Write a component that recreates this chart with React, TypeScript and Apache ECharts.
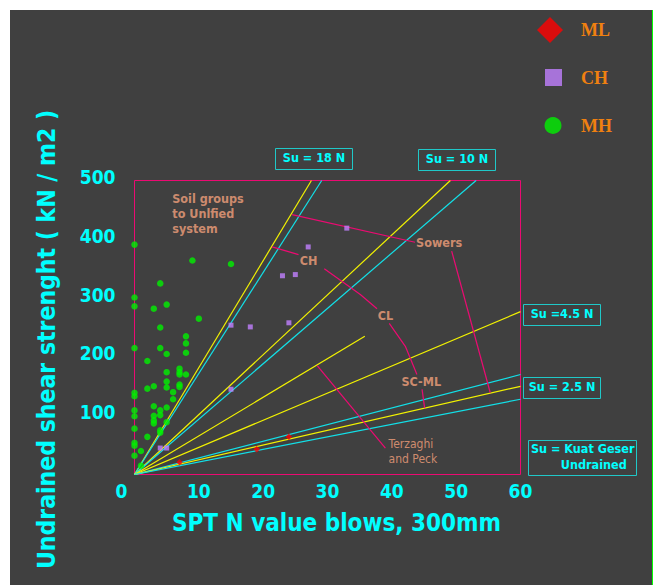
import React, { useEffect, useRef } from 'react';
import * as echarts from 'echarts';

// ---------- data ----------
const xMin = 0, xMax = 60, xStep = 10;
const yMin = 0, yMax = 500, yStep = 100;

const seriesNames = ['ML', 'CH', 'MH'];

const mlPoints = [[7, 21], [19, 43], [24, 64]];
const chPoints = [[4, 45], [5, 45], [15, 145], [15, 254], [18, 251], [23, 338], [24, 258], [25, 340], [27, 387], [33, 419]];
const mhPoints = [
  [0, 391], [0, 301], [0, 286], [0, 215], [0, 139], [0, 133], [0, 109], [0, 99], [0, 78], [0, 54], [0, 49], [0, 32],
  [1, 40], [1, 15],
  [2, 193], [2, 146], [2, 64],
  [3, 282], [3, 150], [3, 116], [3, 100], [3, 92], [3, 87],
  [4, 325], [4, 250], [4, 215], [4, 109], [4, 101], [4, 75], [4, 71],
  [5, 289], [5, 205], [5, 174], [5, 158], [5, 148], [5, 114], [5, 89],
  [6, 140], [6, 128],
  [7, 180], [7, 174], [7, 170], [7, 153], [7, 149],
  [8, 235], [8, 223], [8, 207], [8, 170],
  [9, 364], [10, 265], [15, 358],
];

// correlation lines Su = k N, start at origin, end points
const refLineEnds = [[27.5, 500], [29.1, 500], [49.1, 500], [53.1, 500], [35.8, 235], [60, 277], [60, 170], [60, 150], [60, 128]];
const refLineKinds = ['y', 'c', 'y', 'c', 'y', 'y', 'c', 'y', 'c'];

// leader lines of the annotations
const leaderSowersUpper = [[24.5, 442], [43.6, 395]];
const leaderSowersLower = [[49.3, 380], [55.3, 139]];
const leaderCH = [[21.4, 387], [25.5, 374]];
const leaderCL = [[29.5, 350], [35.1, 306], [37.7, 282]];
const leaderCLtoSCML = [[39.6, 257], [42.1, 218], [43.9, 170]];
const leaderSCML = [[44.7, 145], [45.1, 113]];
const leaderTerzaghi = [[28.4, 185], [39, 45]];
const leaders = [leaderSowersUpper, leaderSowersLower, leaderCH, leaderCL, leaderCLtoSCML, leaderSCML, leaderTerzaghi];

const annotationTexts = ['Sowers', 'CH', 'CL', 'SC-ML', 'Terzaghi\nand Peck', 'Soil groups\nto Unlfied\nsystem'];
const annotationAt = [[47.35, 395], [27.05, 364.5], [39, 271], [44.57, 158.7], [39.5, 39.5], [5.87, 444]];

const xTitle = 'SPT N value blows, 300mm';
const yTitle = 'Undrained shear strenght ( kN / m2 )';
const boxTexts = ['Su = 18 N', 'Su = 10 N', 'Su =4.5 N', 'Su = 2.5 N'];
const kuatTexts = ['Su = Kuat Geser', 'Undrained'];

// ---------- styles ----------
const SANS = "'DejaVu Sans Condensed', 'DejaVu Sans', sans-serif";
const SERIF = "'Liberation Serif', 'DejaVu Serif', serif";
const CYAN = '#00ffff';
const BOX = '#20c8c8';
const YEL = '#f2f200';
const LCYAN = '#12e0e8';
const MAG = '#ec0a72';
const SALMON = '#f4a07c';
const ORANGE = '#f08010';
const RED = '#ff0000';
const PURPLE = '#c080ff';
const GREEN = '#00f000';

export default function App() {
  const ref = useRef<HTMLDivElement>(null);
  useEffect(() => {
    if (!ref.current) return;
    const chart = echarts.init(ref.current, null, { renderer: 'svg' });

    const series: any[] = [];
    refLineEnds.forEach((end, i) => {
      series.push({
        type: 'line', silent: true, symbol: 'none', z: 2,
        data: [[0, 0], end],
        lineStyle: { color: refLineKinds[i] === 'y' ? YEL : LCYAN, width: 1.2 },
      });
    });
    leaders.forEach((pts) => {
      series.push({
        type: 'line', silent: true, symbol: 'none', z: 2,
        data: pts,
        lineStyle: { color: MAG, width: 1.2 },
      });
    });
    series.push({
      name: 'ML', type: 'scatter', symbol: 'diamond', symbolSize: 6.5, z: 4,
      itemStyle: { color: RED }, data: mlPoints,
    });
    series.push({
      name: 'CH', type: 'scatter', symbol: 'rect', symbolSize: 5, z: 4,
      itemStyle: { color: PURPLE }, data: chPoints,
    });
    series.push({
      name: 'MH', type: 'scatter', symbol: 'circle', symbolSize: 6.5, z: 4,
      itemStyle: { color: GREEN }, data: mhPoints,
    });
    series.push({
      type: 'scatter', silent: true, symbolSize: 0, z: 5,
      data: annotationAt.map((p, i) => {
        const multi = annotationTexts[i].includes('\n');
        const isTP = annotationTexts[i].startsWith('Terzaghi');
        return {
          value: p,
          label: {
            show: true,
            position: 'inside',
            formatter: annotationTexts[i],
            color: SALMON,
            fontFamily: SANS,
            fontWeight: isTP ? 'normal' : 'bold',
            fontSize: isTP ? 12 : 12.5,
            lineHeight: 15,
            align: multi ? 'left' : 'center',
            verticalAlign: 'middle',
          },
        };
      }),
    });

    const legendBase = (name: string, icon: string, size: number, left: number, top: number, pad: number) => ({
      data: [name], icon, itemWidth: size, itemHeight: size, left, top, padding: 0,
      selectedMode: false,
      textStyle: { color: ORANGE, fontFamily: SERIF, fontWeight: 'bold', fontSize: 18, padding: [0, 0, 0, pad] },
    });

    const boxLayout = [
      [265.5, 138.5, 77, 21],
      [408.5, 139.5, 77, 21],
      [513.5, 294.5, 77, 21],
      [513.5, 367.5, 77, 21],
    ];
    const graphic: any[] = [];
    boxTexts.forEach((t, i) => {
      const [x, y, w, h] = boxLayout[i];
      graphic.push({ type: 'rect', shape: { x, y, width: w, height: h }, style: { fill: 'none', stroke: BOX, lineWidth: 1 }, silent: true });
      graphic.push({ type: 'text', x: x + w / 2, y: y + h / 2 - 1.5, style: { text: t, fill: CYAN, font: `bold 12.5px ${SANS}`, align: 'center', verticalAlign: 'middle' }, silent: true });
    });
    graphic.push({ type: 'rect', shape: { x: 518.5, y: 430.5, width: 108, height: 35 }, style: { fill: 'none', stroke: BOX, lineWidth: 1 }, silent: true });
    graphic.push({ type: 'text', x: 521, y: 438.3, style: { text: kuatTexts[0], fill: CYAN, font: `bold 12.5px ${SANS}`, align: 'left', verticalAlign: 'middle' }, silent: true });
    graphic.push({ type: 'text', x: 616.7, y: 454, style: { text: kuatTexts[1], fill: CYAN, font: `bold 12.5px ${SANS}`, align: 'right', verticalAlign: 'middle' }, silent: true });

    const tickFont = { color: CYAN, fontFamily: SANS, fontWeight: 'bold', fontSize: 19 };

    chart.setOption({
      animation: false,
      backgroundColor: '#404040',
      grid: { left: 124.5, top: 170.5, width: 386, height: 294, show: true, borderColor: MAG, borderWidth: 1, backgroundColor: 'transparent' },
      legend: [
        legendBase(seriesNames[0], 'diamond', 26, 527, 7, 13),
        legendBase(seriesNames[1], 'rect', 17, 535, 58.5, 14),
        legendBase(seriesNames[2], 'circle', 17, 534.5, 106.5, 14.5),
      ],
      xAxis: {
        type: 'value', min: xMin, max: xMax, interval: xStep,
        axisLine: { show: false }, axisTick: { show: false }, splitLine: { show: false },
        axisLabel: {
          ...tickFont, margin: 7,
          formatter: (v: number) => (v === 0 ? '{z|0}' : String(v)),
          rich: { z: { ...tickFont, padding: [0, 26, 0, 0] } },
        },
        name: xTitle, nameLocation: 'middle', nameGap: 36,
        nameTextStyle: { color: CYAN, fontFamily: SANS, fontWeight: 'bold', fontSize: 24, padding: [0, 0, 0, 18] },
      },
      yAxis: {
        type: 'value', min: yMin, max: yMax, interval: yStep,
        axisLine: { show: false }, axisTick: { show: false }, splitLine: { show: false },
        axisLabel: {
          ...tickFont, margin: 19,
          formatter: (v: number) => (v === 0 ? '' : `{t|${v}}`),
          rich: { t: { ...tickFont, padding: [0, 0, 7, 0] } },
        },
        name: yTitle, nameLocation: 'middle', nameGap: 76, nameRotate: 90,
        nameTextStyle: { color: CYAN, fontFamily: SANS, fontWeight: 'bold', fontSize: 24.5, padding: [0, 24, 0, 0] },
      },
      graphic,
      series,
    });
    return () => chart.dispose();
  }, []);

  return (
    <div style={{ position: 'absolute', left: 0, top: 0, width: 653, height: 585, background: '#ffffff' }}>
      <div ref={ref} style={{ position: 'absolute', left: 10, top: 10, width: 642, height: 575, background: '#404040' }} />
      <div style={{ position: 'absolute', left: 652, top: 10, width: 1, height: 575, background: '#00ff00' }} />
    </div>
  );
}
